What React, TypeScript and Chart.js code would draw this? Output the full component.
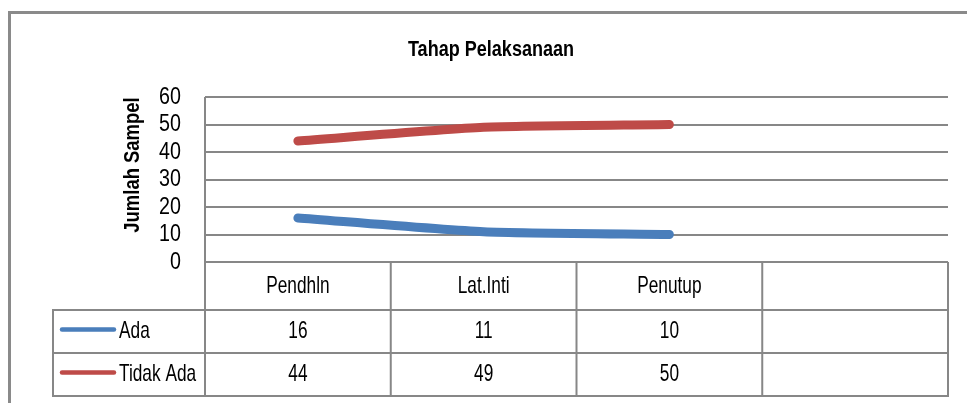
import React, { useEffect, useRef } from "react";
import { Chart, registerables } from "chart.js";

Chart.register(...registerables);

const categories = ["Pendhln", "Lat.Inti", "Penutup", ""];
const adaValues = [16, 11, 10, null];
const tidakAdaValues = [44, 49, 50, null];
const seriesNames = ["Ada", "Tidak Ada"];
const yTicks = [0, 10, 20, 30, 40, 50, 60];
const chartTitle = "Tahap Pelaksanaan";
const yTitle = "Jumlah Sampel";

const BLUE = "#4A7EBB";
const RED = "#BE4B48";
const GRID = "#878787";
const FONT = "'Liberation Sans', Arial, sans-serif";

function drawText(
  ctx: CanvasRenderingContext2D,
  text: string,
  x: number,
  y: number,
  size: number,
  bold: boolean,
  align: CanvasTextAlign,
  sx = 1
) {
  ctx.save();
  ctx.translate(x, y);
  ctx.scale(sx, 1);
  ctx.font = `${bold ? "bold " : ""}${size}px ${FONT}`;
  ctx.fillStyle = "#000";
  ctx.textAlign = align;
  ctx.textBaseline = "middle";
  ctx.fillText(text, 0, 0);
  ctx.restore();
}

const tablePlugin = {
  id: "excelTable",
  afterDraw(chart: any) {
    const ctx: CanvasRenderingContext2D = chart.ctx;
    const area = chart.chartArea;
    const xs = chart.scales.x;
    const ys = chart.scales.y;
    const n = categories.length;
    const colW = (area.right - area.left) / n;
    const headerBottom = area.bottom + 48;
    const row1Bottom = headerBottom + 43;
    const row2Bottom = row1Bottom + 43;
    const legendLeft = 53;
    const TS = 0.72;

    ctx.save();
    // outer chart border
    ctx.strokeStyle = "#8a8a8a";
    ctx.lineWidth = 3;
    ctx.beginPath();
    ctx.moveTo(9.5, 420);
    ctx.lineTo(9.5, 12.5);
    ctx.lineTo(980, 12.5);
    ctx.stroke();

    // table lines
    ctx.strokeStyle = GRID;
    ctx.lineWidth = 2;
    ctx.beginPath();
    ctx.moveTo(area.left, area.top);
    ctx.lineTo(area.left, row2Bottom);
    for (let i = 1; i <= n; i++) {
      const x = area.left + i * colW;
      ctx.moveTo(x, area.bottom);
      ctx.lineTo(x, row2Bottom);
    }
    ctx.moveTo(legendLeft, headerBottom);
    ctx.lineTo(legendLeft, row2Bottom);
    for (const y of [headerBottom, row1Bottom, row2Bottom]) {
      ctx.moveTo(legendLeft - 1, y);
      ctx.lineTo(area.right + 1, y);
    }
    ctx.stroke();

    // y tick labels
    yTicks.forEach((v) => {
      drawText(ctx, String(v), area.left - 24, ys.getPixelForValue(v), 24, false, "right", 0.82);
    });

    // header
    const hy = (area.bottom + headerBottom) / 2;
    categories.forEach((c, i) => {
      if (c) drawText(ctx, c, xs.getPixelForValue(i), hy, 24, false, "center", TS);
    });

    const rows = [
      { name: seriesNames[0], vals: adaValues, color: BLUE, y: (headerBottom + row1Bottom) / 2 },
      { name: seriesNames[1], vals: tidakAdaValues, color: RED, y: (row1Bottom + row2Bottom) / 2 },
    ];
    rows.forEach((r) => {
      ctx.strokeStyle = r.color;
      ctx.lineWidth = 4.5;
      ctx.lineCap = "round";
      ctx.beginPath();
      ctx.moveTo(62, r.y - 2);
      ctx.lineTo(114, r.y - 2);
      ctx.stroke();
      drawText(ctx, r.name, 119, r.y, 24, false, "left", TS);
      r.vals.forEach((v, i) => {
        if (v !== null) drawText(ctx, String(v), xs.getPixelForValue(i), r.y, 24, false, "center", TS);
      });
    });

    // title
    drawText(ctx, chartTitle, 491, 50, 22, true, "center", 0.82);
    // y title
    ctx.save();
    ctx.translate(133, 165);
    ctx.rotate(-Math.PI / 2);
    drawText(ctx, yTitle, 0, 0, 22.5, true, "center", 0.82);
    ctx.restore();

    ctx.restore();
  },
};

export default function App() {
  const ref = useRef<HTMLCanvasElement | null>(null);
  useEffect(() => {
    document.body.style.margin = "0";
    const canvas = ref.current!;
    const chart = new Chart(canvas, {
      type: "line",
      data: {
        labels: categories,
        datasets: [
          {
            label: seriesNames[0],
            data: adaValues,
            borderColor: BLUE,
            backgroundColor: BLUE,
            borderWidth: 9,
            borderCapStyle: "round",
            borderJoinStyle: "round",
            pointRadius: 0,
            tension: 0.2,
          },
          {
            label: seriesNames[1],
            data: tidakAdaValues,
            borderColor: RED,
            backgroundColor: RED,
            borderWidth: 9,
            borderCapStyle: "round",
            borderJoinStyle: "round",
            pointRadius: 0,
            tension: 0.2,
          },
        ],
      },
      options: {
        responsive: false,
        animation: false,
        events: [],
        layout: { padding: { left: 0, top: 97, right: 19, bottom: 141 } },
        plugins: {
          legend: { display: false },
          title: { display: false },
          tooltip: { enabled: false },
        },
        scales: {
          x: {
            type: "category",
            display: false,
            offset: true,
          },
          y: {
            min: 0,
            max: 60,
            afterFit: (s: any) => {
              s.width = 205;
            },
            afterBuildTicks: (s: any) => {
              s.ticks = yTicks.map((v) => ({ value: v }));
            },
            grid: { color: GRID, lineWidth: 2, drawTicks: false },
            border: { display: false },
            ticks: { display: false, autoSkip: false },
          },
        },
      },
      plugins: [tablePlugin],
    } as any);
    return () => chart.destroy();
  }, []);
  return (
    <div style={{ position: "fixed", left: 0, top: 0, width: 967, height: 403, background: "#fff" }}>
      <canvas ref={ref} width={967} height={403} />
    </div>
  );
}
